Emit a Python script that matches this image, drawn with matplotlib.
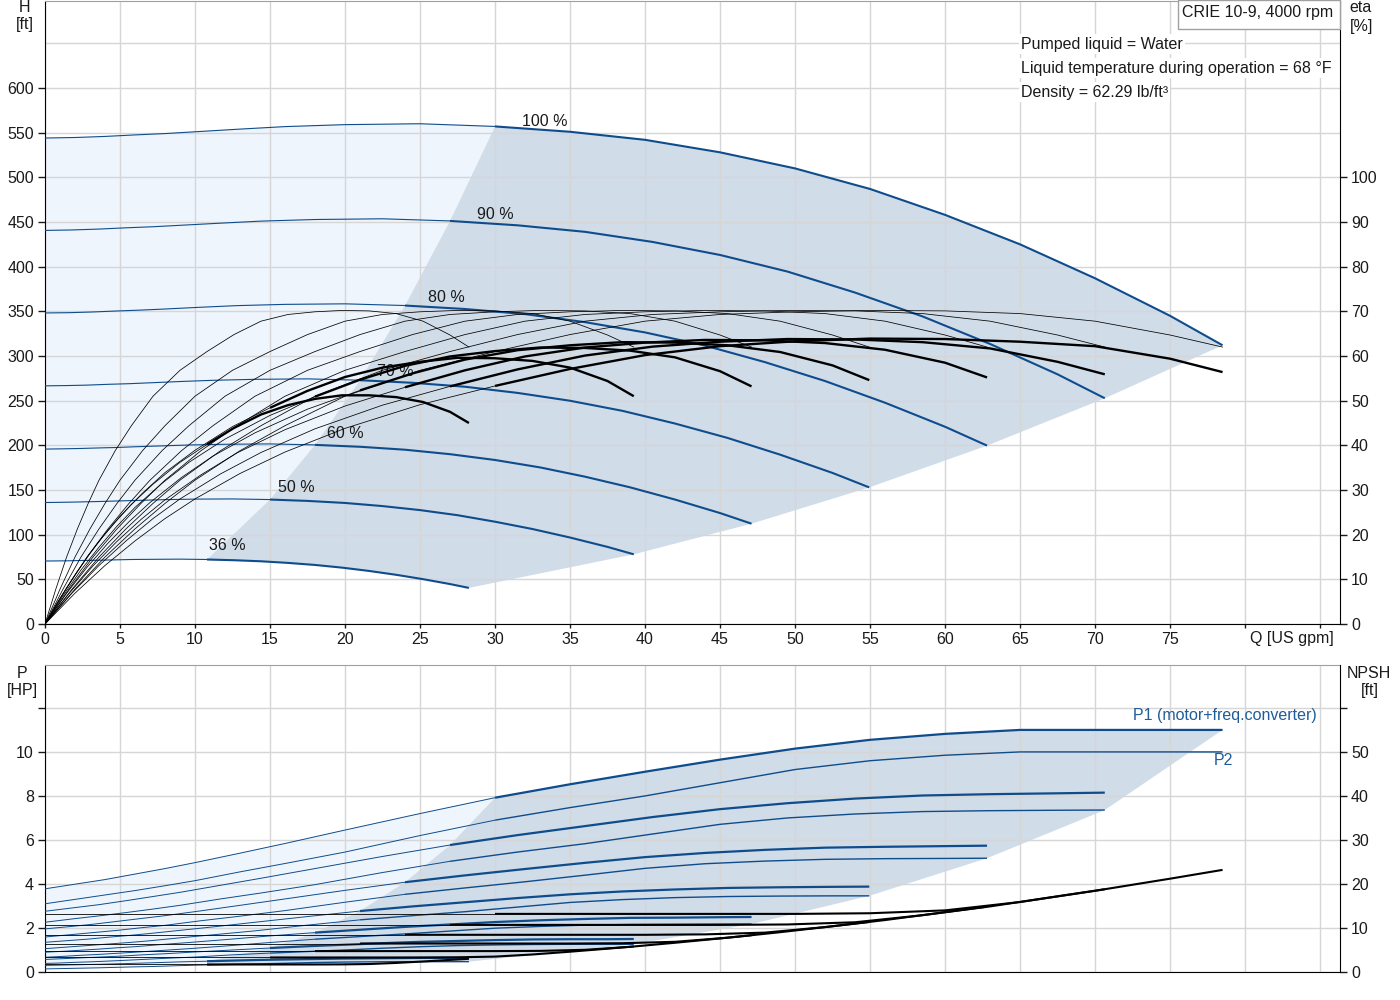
import matplotlib
matplotlib.use("Agg")
import matplotlib.pyplot as plt
from matplotlib.patches import Polygon, Rectangle

plt.rcParams['font.family'] = ['Liberation Sans', 'DejaVu Sans']
plt.rcParams['font.size'] = 11.5

# flow points [US gpm] for each speed
q100 = [0, 2, 4, 6, 8, 10, 13, 16, 20, 25, 30, 35, 40, 45, 50, 55, 60, 65, 70, 75, 78.5]
q90 = [0, 1.8, 3.6, 5.4, 7.2, 9, 11.7, 14.4, 18, 22.5, 27, 31.5, 36, 40.5, 45, 49.5, 54, 58.5, 63, 67.5, 70.65]
q80 = [0, 1.6, 3.2, 4.8, 6.4, 8, 10.4, 12.8, 16, 20, 24, 28, 32, 36, 40, 44, 48, 52, 56, 60, 62.8]
q70 = [0, 1.4, 2.8, 4.2, 5.6, 7, 9.1, 11.2, 14, 17.5, 21, 24.5, 28, 31.5, 35, 38.5, 42, 45.5, 49, 52.5, 54.95]
q60 = [0, 1.2, 2.4, 3.6, 4.8, 6, 7.8, 9.6, 12, 15, 18, 21, 24, 27, 30, 33, 36, 39, 42, 45, 47.1]
q50 = [0, 1, 2, 3, 4, 5, 6.5, 8, 10, 12.5, 15, 17.5, 20, 22.5, 25, 27.5, 30, 32.5, 35, 37.5, 39.25]
q36 = [0, 0.72, 1.44, 2.16, 2.88, 3.6, 4.68, 5.76, 7.2, 9, 10.8, 12.6, 14.4, 16.2, 18, 19.8, 21.6, 23.4, 25.2, 27, 28.26]

# head [ft]
h100 = [544, 544.6, 545.8, 547.5, 549, 551, 554, 556.8, 559, 560, 557, 551, 542, 528, 510, 487, 458, 425, 387, 345, 312]
h90 = [440.6, 441.1, 442.1, 443.5, 444.7, 446.3, 448.7, 451.0, 452.8, 453.6, 451.2, 446.3, 439.0, 427.7, 413.1, 394.5, 371.0, 344.3, 313.5, 279.5, 252.7]
h80 = [348.2, 348.5, 349.3, 350.4, 351.4, 352.6, 354.6, 356.4, 357.8, 358.4, 356.5, 352.6, 346.9, 337.9, 326.4, 311.7, 293.1, 272.0, 247.7, 220.8, 199.7]
h70 = [266.6, 266.9, 267.4, 268.3, 269.0, 270.0, 271.5, 272.8, 273.9, 274.4, 272.9, 270.0, 265.6, 258.7, 249.9, 238.6, 224.4, 208.3, 189.6, 169.1, 152.9]
h60 = [195.8, 196.1, 196.5, 197.1, 197.6, 198.4, 199.4, 200.4, 201.2, 201.6, 200.5, 198.4, 195.1, 190.1, 183.6, 175.3, 164.9, 153.0, 139.3, 124.2, 112.3]
h50 = [136.0, 136.2, 136.5, 136.9, 137.3, 137.8, 138.5, 139.2, 139.8, 140.0, 139.3, 137.8, 135.5, 132.0, 127.5, 121.8, 114.5, 106.3, 96.8, 86.3, 78.0]
h36 = [70.5, 70.6, 70.7, 71.0, 71.2, 71.4, 71.8, 72.2, 72.4, 72.6, 72.2, 71.4, 70.2, 68.4, 66.1, 63.1, 59.4, 55.1, 50.2, 44.7, 40.4]

# pump efficiency [%] (same shape at every speed)
eta_pump = [0, 7.8, 15, 21.3, 27, 32.2, 38.8, 44.4, 51, 56.8, 61, 64.8, 67.8, 69.3, 69.9, 70.2, 70.1, 69.5, 67.8, 64.7, 62]

# total efficiency [%]
e100 = [0, 6.9, 13.1, 18.6, 23.6, 28.0, 33.7, 38.5, 43.8, 49.1, 53.3, 57.1, 60.2, 62.2, 63.3, 63.9, 63.8, 63.2, 62.2, 59.4, 56.4]
e90 = [0, 6.9, 13.1, 18.6, 23.6, 28.0, 33.6, 38.4, 43.7, 49.0, 53.2, 57.0, 60.1, 62.1, 63.2, 63.8, 63.7, 63.1, 61.7, 58.7, 55.9]
e80 = [0, 6.8, 13.0, 18.5, 23.4, 27.8, 33.4, 38.3, 43.5, 48.8, 53.0, 56.8, 59.9, 61.9, 63.0, 63.6, 63.5, 62.9, 61.4, 58.5, 55.2]
e70 = [0, 6.7, 12.7, 18.1, 22.9, 27.2, 32.8, 37.6, 42.8, 48.1, 52.3, 56.1, 59.2, 61.3, 62.4, 63.1, 63.0, 62.4, 60.9, 57.9, 54.6]
e60 = [0, 6.3, 12.1, 17.2, 21.9, 26.1, 31.5, 36.2, 41.4, 46.7, 50.9, 54.7, 57.8, 59.9, 61.1, 61.9, 61.8, 61.2, 59.7, 56.6, 53.2]
e50 = [0, 5.7, 11.0, 15.8, 20.2, 24.1, 29.3, 33.9, 38.9, 44.2, 48.4, 52.2, 55.3, 57.4, 58.7, 59.6, 59.5, 58.9, 57.4, 54.4, 51.0]
e36 = [0, 4.2, 8.1, 11.8, 15.3, 18.5, 22.8, 26.8, 31.3, 36.2, 40.2, 43.9, 46.9, 49.0, 50.4, 51.2, 51.2, 50.8, 49.7, 47.5, 45.0]

# P1 (motor+freq.converter) [HP]
p1_100 = [3.78, 3.99, 4.2, 4.45, 4.7, 4.97, 5.4, 5.84, 6.45, 7.2, 7.92, 8.53, 9.1, 9.65, 10.15, 10.55, 10.82, 11.0, 11.0, 11.0, 11.0]
p1_90 = [2.76, 2.91, 3.06, 3.24, 3.43, 3.62, 3.94, 4.26, 4.7, 5.25, 5.77, 6.22, 6.63, 7.04, 7.4, 7.67, 7.88, 8.02, 8.08, 8.12, 8.15]
p1_80 = [1.96, 2.06, 2.17, 2.3, 2.43, 2.56, 2.78, 3.01, 3.32, 3.71, 4.08, 4.39, 4.68, 4.96, 5.22, 5.41, 5.55, 5.65, 5.69, 5.72, 5.74]
p1_70 = [1.35, 1.42, 1.49, 1.58, 1.66, 1.75, 1.9, 2.05, 2.26, 2.52, 2.77, 2.98, 3.17, 3.36, 3.53, 3.66, 3.75, 3.82, 3.85, 3.87, 3.88]
p1_60 = [0.9, 0.94, 0.99, 1.04, 1.1, 1.15, 1.25, 1.34, 1.47, 1.64, 1.79, 1.92, 2.05, 2.16, 2.27, 2.35, 2.41, 2.46, 2.47, 2.49, 2.5]
p1_50 = [0.57, 0.6, 0.63, 0.66, 0.69, 0.72, 0.78, 0.83, 0.91, 1.0, 1.09, 1.17, 1.24, 1.31, 1.37, 1.41, 1.45, 1.48, 1.49, 1.49, 1.5]
p1_36 = [0.3, 0.31, 0.32, 0.33, 0.34, 0.35, 0.37, 0.39, 0.42, 0.46, 0.49, 0.52, 0.55, 0.57, 0.59, 0.61, 0.62, 0.63, 0.64, 0.64, 0.64]

# P2 [HP]
p2_100 = [3.1, 3.3, 3.5, 3.7, 3.92, 4.15, 4.55, 4.93, 5.45, 6.2, 6.9, 7.47, 8.0, 8.6, 9.2, 9.6, 9.85, 10.0, 10.0, 10.0, 10.0]
p2_90 = [2.26, 2.41, 2.55, 2.7, 2.86, 3.03, 3.32, 3.59, 3.97, 4.52, 5.03, 5.45, 5.83, 6.27, 6.71, 7.0, 7.18, 7.29, 7.33, 7.35, 7.36]
p2_80 = [1.59, 1.69, 1.79, 1.89, 2.01, 2.12, 2.33, 2.52, 2.79, 3.17, 3.53, 3.82, 4.1, 4.4, 4.71, 4.92, 5.04, 5.12, 5.15, 5.16, 5.17]
p2_70 = [1.06, 1.13, 1.2, 1.27, 1.34, 1.42, 1.56, 1.69, 1.87, 2.13, 2.37, 2.56, 2.74, 2.95, 3.16, 3.29, 3.38, 3.43, 3.45, 3.46, 3.46]
p2_60 = [0.67, 0.71, 0.76, 0.8, 0.85, 0.9, 0.98, 1.06, 1.18, 1.34, 1.49, 1.61, 1.73, 1.86, 1.99, 2.07, 2.13, 2.16, 2.17, 2.18, 2.18]
p2_50 = [0.39, 0.41, 0.44, 0.46, 0.49, 0.52, 0.57, 0.62, 0.68, 0.78, 0.86, 0.93, 1.0, 1.08, 1.15, 1.2, 1.23, 1.25, 1.26, 1.26, 1.26]
p2_36 = [0.14, 0.15, 0.16, 0.17, 0.18, 0.19, 0.21, 0.23, 0.25, 0.29, 0.32, 0.35, 0.37, 0.4, 0.43, 0.45, 0.46, 0.47, 0.47, 0.47, 0.47]

# NPSH [ft]
n100 = [13.2, 13.2, 13.2, 13.2, 13.2, 13.2, 13.2, 13.2, 13.2, 13.2, 13.2, 13.2, 13.2, 13.2, 13.2, 13.35, 14.0, 15.9, 18.45, 21.2, 23.2]
n90 = [10.7, 10.7, 10.7, 10.7, 10.7, 10.7, 10.7, 10.7, 10.7, 10.7, 10.7, 10.7, 10.7, 10.7, 10.7, 10.8, 11.3, 12.9, 14.9, 17.2, 18.8]
n80 = [8.45, 8.45, 8.45, 8.45, 8.45, 8.45, 8.45, 8.45, 8.45, 8.45, 8.45, 8.45, 8.45, 8.45, 8.45, 8.55, 8.95, 10.2, 11.8, 13.6, 14.85]
n70 = [6.47, 6.47, 6.47, 6.47, 6.47, 6.47, 6.47, 6.47, 6.47, 6.47, 6.47, 6.47, 6.47, 6.47, 6.47, 6.54, 6.86, 7.79, 9.04, 10.4, 11.37]
n60 = [4.75, 4.75, 4.75, 4.75, 4.75, 4.75, 4.75, 4.75, 4.75, 4.75, 4.75, 4.75, 4.75, 4.75, 4.75, 4.8, 5.04, 5.72, 6.64, 7.63, 8.35]
n50 = [3.3, 3.3, 3.3, 3.3, 3.3, 3.3, 3.3, 3.3, 3.3, 3.3, 3.3, 3.3, 3.3, 3.3, 3.3, 3.34, 3.5, 3.98, 4.61, 5.3, 5.8]
n36 = [1.71, 1.71, 1.71, 1.71, 1.71, 1.71, 1.71, 1.71, 1.71, 1.71, 1.71, 1.71, 1.71, 1.71, 1.71, 1.73, 1.81, 2.06, 2.39, 2.75, 3.0]

speed_labels = ["100 %", "90 %", "80 %", "70 %", "60 %", "50 %", "36 %"]
label_q = [31.8, 28.8, 25.5, 22.1, 18.8, 15.5, 10.9]
label_h = [562, 458, 365, 283, 213, 153, 88]

q_all = [q100, q90, q80, q70, q60, q50, q36]
h_all = [h100, h90, h80, h70, h60, h50, h36]
e_all = [e100, e90, e80, e70, e60, e50, e36]
p1_all = [p1_100, p1_90, p1_80, p1_70, p1_60, p1_50, p1_36]
p2_all = [p2_100, p2_90, p2_80, p2_70, p2_60, p2_50, p2_36]
n_all = [n100, n90, n80, n70, n60, n50, n36]

BLUE = '#0f4c8c'
GRID = '#d6d6d6'
LIGHT = '#eef5fc'
DARK = '#d0dce8'
TXT = '#1a1a1a'
K = 10  # index where the allowed operating range starts


def curve(a, q, y, color, lw_thin, lw_thick, z=3):
    a.plot(q[:K + 1], y[:K + 1], color=color, lw=lw_thin, zorder=z, solid_capstyle='butt')
    a.plot(q[K:], y[K:], color=color, lw=lw_thick, zorder=z, solid_capstyle='butt')


def regions(a, top, bottom_light, bottom_dark, right):
    # light = low flow area, dark = operating area
    light = list(zip(q100[:K + 1], top[0][:K + 1]))
    light += [(q[K], y[K]) for q, y in zip(q_all[1:], top[1:])]
    light += list(zip(q36[:K + 1], bottom_light))[::-1]
    a.add_patch(Polygon(light, closed=True, fc=LIGHT, ec='none', zorder=1))
    dark = [(q[K], y[K]) for q, y in zip(q_all[::-1], top[::-1])]
    dark += list(zip(q100[K:], top[0][K:]))
    dark += [(q[-1], y[-1]) for q, y in zip(q_all[1:], right[1:])]
    dark += list(zip(q36[K:], bottom_dark))[::-1]
    a.add_patch(Polygon(dark, closed=True, fc=DARK, ec='none', zorder=1))


fig = plt.figure(figsize=(14, 10), dpi=100)

# ---------------- top: head + efficiency ----------------
ax = fig.add_axes([45 / 1400, 1 - 624 / 1000, 1295 / 1400, 623 / 1000])
ax.set_xlim(0, 86.33)
ax.set_ylim(0, 697.4)
ax.set_axisbelow('line')
ax.grid(True, color=GRID, lw=1)
ax.axhline(650, color=GRID, lw=1, zorder=1.5)

regions(ax, h_all, h36[:K + 1], h36[K:], h_all)

for q, h in zip(q_all, h_all):
    curve(ax, q, h, BLUE, 0.8, 1.5)
for lab, lq, lh in zip(speed_labels, label_q, label_h):
    ax.text(lq, lh, lab, ha='left', va='center', color=TXT, zorder=5)

ax.set_yticks(range(0, 601, 50))
ax.set_xticks(range(0, 86, 5))
ax.set_xticklabels([str(v) for v in range(0, 76, 5)] + ['', ''])
ax.tick_params(axis='y', length=5, width=1, pad=3, colors=TXT)
ax.tick_params(axis='x', length=3, width=1, pad=3, colors=TXT)
ax.spines['top'].set_color('#a0a0a0')
ax.spines['right'].set_visible(False)
ax.text(85.9, -0.012, 'Q [US gpm]', transform=ax.get_xaxis_transform(),
        ha='right', va='top', color=TXT)

axr = ax.twinx()
axr.set_ylim(0, 697.4 / 5)
axr.set_yticks(range(0, 101, 10))
axr.tick_params(axis='y', length=5, width=1, pad=3, colors=TXT)
for s in ['left', 'top', 'bottom']:
    axr.spines[s].set_visible(False)

for q, e in zip(q_all, e_all):
    axr.plot(q, eta_pump, color='black', lw=0.55, zorder=3)
    curve(axr, q, e, 'black', 0.55, 1.7)

# ---------------- bottom: power + NPSH ----------------
axb = fig.add_axes([45 / 1400, 1 - 972 / 1000, 1295 / 1400, 307 / 1000])
axb.set_xlim(0, 86.33)
axb.set_ylim(0, 13.95)
axb.set_axisbelow('line')
axb.grid(True, color=GRID, lw=1)
axb.set_xticks(range(0, 86, 5))
axb.tick_params(axis='x', length=0, labelbottom=False)
axb.set_yticks(range(0, 13, 2))
axb.set_yticklabels([str(v) for v in range(0, 11, 2)] + [''])
axb.tick_params(axis='y', length=5, width=1, pad=3, colors=TXT)
axb.spines['top'].set_color('#a0a0a0')
axb.spines['right'].set_visible(False)

regions(axb, p1_all, p2_36[:K + 1], p2_36[K:], [p1_100] + p2_all[1:])

for q, p in zip(q_all, p2_all):
    curve(axb, q, p, BLUE, 0.7, 1.0)
for q, p in zip(q_all, p1_all):
    curve(axb, q, p, BLUE, 0.7, 1.6)

axb.text(72.5, 11.64, 'P1 (motor+freq.converter)', color='#1f5c99', ha='left', va='center', zorder=5)
axb.text(77.9, 9.59, 'P2', color='#1f5c99', ha='left', va='center', zorder=5)

axn = axb.twinx()
axn.set_ylim(0, 13.95 * 5)
axn.set_yticks(range(0, 61, 10))
axn.set_yticklabels([str(v) for v in range(0, 51, 10)] + [''])
axn.tick_params(axis='y', length=5, width=1, pad=3, colors=TXT)
for s in ['left', 'top', 'bottom']:
    axn.spines[s].set_visible(False)

for q, n in zip(q_all, n_all):
    curve(axn, q, n, 'black', 0.6, 1.5)

# ---------------- texts ----------------
fig.text(25 / 1400, 1 - 8 / 1000, 'H', ha='center', va='center', color=TXT)
fig.text(25 / 1400, 1 - 25 / 1000, '[ft]', ha='center', va='center', color=TXT)
fig.text(1361 / 1400, 1 - 8 / 1000, 'eta', ha='center', va='center', color=TXT)
fig.text(1362 / 1400, 1 - 26 / 1000, '[%]', ha='center', va='center', color=TXT)
fig.text(22 / 1400, 1 - 673 / 1000, 'P', ha='center', va='center', color=TXT)
fig.text(22 / 1400, 1 - 691 / 1000, '[HP]', ha='center', va='center', color=TXT)
fig.text(1369 / 1400, 1 - 673 / 1000, 'NPSH', ha='center', va='center', color=TXT)
fig.text(1370 / 1400, 1 - 691 / 1000, '[ft]', ha='center', va='center', color=TXT)

fig.patches.append(Rectangle((1178 / 1400, 1 - 29 / 1000), 162 / 1400, 29 / 1000,
                             transform=fig.transFigure, fc='white', ec='#a0a0a0', lw=1, zorder=4))
fig.text(1258 / 1400, 1 - 12 / 1000, 'CRIE 10-9, 4000 rpm', ha='center', va='center',
         color=TXT, zorder=5)

info = ['Pumped liquid = Water',
        'Liquid temperature during operation = 68 °F',
        'Density = 62.29 lb/ft³']
for i, line in enumerate(info):
    fig.text(1021 / 1400, 1 - (44 + 24 * i) / 1000, line, ha='left', va='center', color=TXT,
             zorder=5, bbox=dict(fc='white', ec='none', pad=1.5))

fig.savefig('out.png', dpi=100)
